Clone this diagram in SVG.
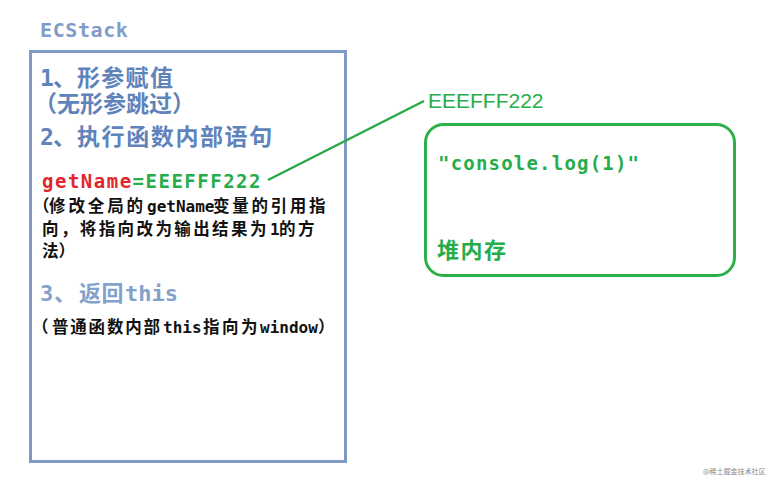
<svg xmlns="http://www.w3.org/2000/svg" width="770" height="486" viewBox="0 0 770 486">
<style>
.bg{fill:#ffffff}
.stack{fill:#ffffff;stroke:#7e9bc6;stroke-width:3}
.heap{fill:#ffffff;stroke:#2db04b;stroke-width:3}
.link{stroke:#2aa845;stroke-width:2.5;fill:none}
.title{font-family:"DejaVu Sans Mono","Noto Sans CJK SC",monospace;font-weight:bold;font-size:20px;letter-spacing:0.6px;fill:#7f9dc9}
.big{font-family:"DejaVu Sans Mono","Noto Sans CJK SC",monospace;font-weight:bold;font-size:23px;fill:#5f83bb}
.big3{font-family:"DejaVu Sans Mono","Noto Sans CJK SC",monospace;font-weight:bold;font-size:22px;fill:#84a1cb}
.cjk{font-family:"Noto Sans CJK SC",sans-serif}
.mono{font-family:"DejaVu Sans Mono",monospace}
.small{font-family:"Noto Sans CJK SC",sans-serif;font-weight:bold;font-size:16.5px;fill:#111111}
.smallmono{font-family:"DejaVu Sans Mono",monospace;font-weight:bold;font-size:16px;letter-spacing:0}
.code{font-family:"DejaVu Sans Mono",monospace;font-weight:bold;font-size:19px;letter-spacing:1.5px}
.red{fill:#e3262b}
.green{fill:#26ad4a}
.addr{font-family:"Liberation Sans","Noto Sans CJK SC",sans-serif;font-size:21px;fill:#26ad4a}
.heaptxt{font-family:"DejaVu Sans Mono",monospace;font-weight:bold;font-size:19px;letter-spacing:1.2px;fill:#26ad4a}
.heaplabel{font-family:"Noto Sans CJK SC",sans-serif;font-weight:bold;font-size:22px;letter-spacing:1.5px;fill:#26ad4a}
.wm{font-family:"Noto Sans CJK SC",sans-serif;font-size:7px;fill:#8a8a8a}
</style>
<rect class="bg" x="0" y="0" width="770" height="486"/>

<g id="ecstack">
  <text class="title" x="40" y="37">ECStack</text>
  <rect class="stack" x="30.5" y="51.5" width="315" height="410"/>
  <text class="big" y="86"><tspan x="40">1</tspan><tspan x="53" class="cjk">、</tspan><tspan x="77" class="cjk" letter-spacing="1.3">形参赋值</tspan></text>
  <text class="big cjk" x="34" y="112">（无形参跳过）</text>
  <text class="big" y="145"><tspan x="40">2</tspan><tspan x="53" class="cjk">、</tspan><tspan x="77" class="cjk" letter-spacing="1.6">执行函数内部语句</tspan></text>
  <text class="code" x="42" y="188"><tspan class="red">getName</tspan><tspan class="green">=EEEFFF222</tspan></text>
  <text class="small" y="212"><tspan x="33">（</tspan><tspan x="49" letter-spacing="2.9">修改全局的</tspan><tspan x="147" class="smallmono">getName</tspan><tspan x="213" letter-spacing="2.7">变量的引用指</tspan></text>
  <text class="small" y="235"><tspan x="42" letter-spacing="2.4">向，将指向改为输出结果为</tspan><tspan x="270" class="smallmono">1</tspan><tspan x="279" letter-spacing="2.4">的方</tspan></text>
  <text class="small" x="42" y="257">法）</text>
  <text class="big3" y="301"><tspan x="40">3</tspan><tspan x="54" class="cjk">、</tspan><tspan x="79" class="cjk" letter-spacing="0.5">返回</tspan><tspan x="125">this</tspan></text>
  <text class="small" y="333"><tspan x="32">（</tspan><tspan x="52" letter-spacing="1.8">普通函数内部</tspan><tspan x="163" class="smallmono">this</tspan><tspan x="203" letter-spacing="2.5">指向为</tspan><tspan x="260" class="smallmono">window</tspan><tspan x="318">）</tspan></text>
</g>

<g id="heap">
  <rect class="heap" x="425.5" y="124.5" width="309" height="151" rx="18" ry="18"/>
  <text class="heaptxt" x="438" y="170">"console.log(1)"</text>
  <text class="heaplabel" x="437" y="258">堆内存</text>
</g>

<g id="connectors">
  <line class="link" x1="268" y1="180" x2="424" y2="101"/>
  <text class="addr" x="428" y="108">EEEFFF222</text>
</g>

<text class="wm" x="703" y="474">@稀土掘金技术社区</text>
</svg>
